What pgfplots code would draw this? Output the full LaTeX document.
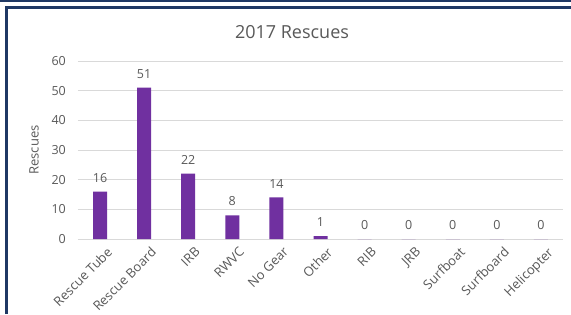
\documentclass[border=0pt]{standalone}
\usepackage{pgfplots}
\pgfplotsset{compat=1.18}
\usepackage{fontspec}
\setmainfont{Open Sans}
\definecolor{barc}{HTML}{7030A0}
\definecolor{txtc}{HTML}{595959}
\definecolor{gridc}{HTML}{D9D9D9}
\definecolor{navy}{HTML}{1F3864}
\begin{document}
\begin{tikzpicture}[x=1pt,y=1pt]
\path[use as bounding box] (0,0) rectangle (571,314);
\fill[white] (0,0) rectangle (571,314);
\draw[navy, line width=2pt] (0,313) -- (571,313);
\draw[navy, line width=2.2pt] (6.5,0) -- (6.5,306.5) -- (571,306.5);
\node[text=txtc, font=\fontsize{18}{20}\selectfont, inner sep=0pt] at (292,282) {2017 Rescues};
\begin{axis}[
  at={(78pt,75pt)}, anchor=south west,
  scale only axis, width=485pt, height=178pt,
  xmin=-0.5, xmax=10.5, ymin=0, ymax=60,
  ytick={0,10,...,60},
  xtick=data,
  xticklabels={Rescue Tube,Rescue Board,IRB,RWVC,No Gear,Other,RIB,JRB,Surfboat,Surfboard,Helicopter},
  xticklabel style={xshift=6pt, yshift=-7pt, rotate=45, anchor=north east, inner sep=0pt, font=\fontsize{13}{15}\selectfont},
  yticklabel style={anchor=east, inner sep=0pt, xshift=-12pt},
  tick style={draw=none},
  axis line style={draw=none},
  ymajorgrids, grid style={gridc, line width=0.8pt},
  ylabel={Rescues}, ylabel style={text=txtc, font=\fontsize{13}{15}\selectfont, at={(axis description cs:-0.0907,0.5)}, anchor=center},
  ticklabel style={text=txtc, font=\fontsize{12.5}{14}\selectfont},
  /pgf/number format/assume math mode=true,
  nodes near coords,
  every node near coord/.append style={text=txtc, font=\fontsize{12.5}{14}\selectfont, anchor=south, inner sep=0pt, yshift=9pt},
  clip=false,
]
\addplot[ybar, bar width=14pt, fill=barc, draw=none] coordinates {
(0,16) (1,51) (2,22) (3,8) (4,14) (5,1) (6,0) (7,0) (8,0) (9,0) (10,0)};
\end{axis}
\end{tikzpicture}
\end{document}
